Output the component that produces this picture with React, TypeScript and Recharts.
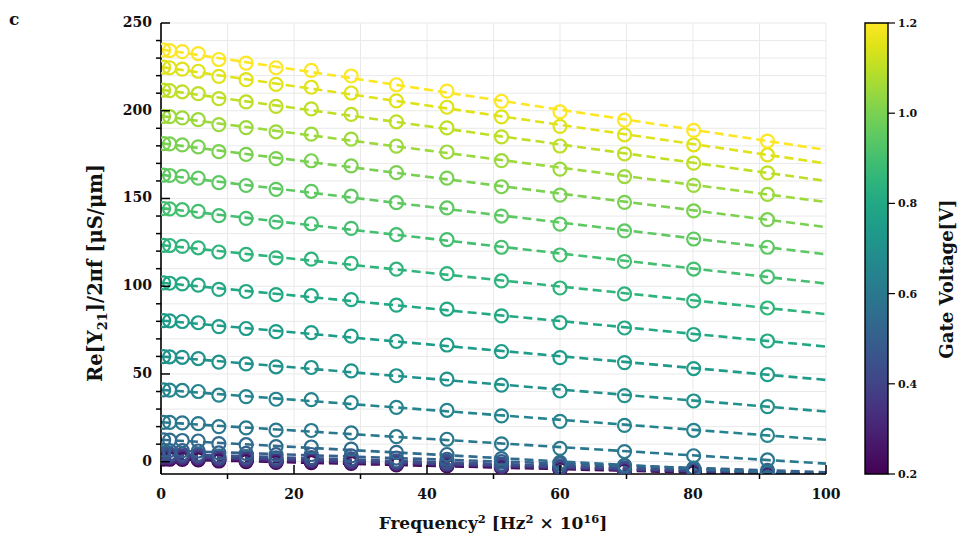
import React from 'react';
import { ComposedChart, Line, Scatter, XAxis, YAxis, CartesianGrid, ReferenceArea } from 'recharts';

// ---------- data ----------
const freqSq = [0.4, 1.3, 3.2, 5.6, 8.7, 12.8, 17.3, 22.6, 28.6, 35.4, 43.0, 51.2, 60.0, 69.7, 80.1, 91.2];
const gateVoltages = [0.2, 0.25, 0.3, 0.35, 0.4, 0.45, 0.5, 0.55, 0.6, 0.65, 0.7, 0.75, 0.8, 0.85, 0.9, 0.95, 1.0, 1.05, 1.1, 1.15, 1.2];

const re_020 = [1.5, 1.4, 1.3, 1.1, 0.4, 0.1, -0.4, -0.5, -1.0, -1.8, -2.4, -3.4, -4.5, -5.2, -6.2, -7.2];
const re_025 = [2.0, 1.9, 1.8, 1.6, 0.9, 0.6, 0.0, 0.1, -0.5, -1.4, -2.0, -3.0, -4.1, -4.9, -5.9, -6.9];
const re_030 = [2.5, 2.4, 2.3, 2.1, 1.3, 1.0, 0.4, 0.5, -0.2, -1.0, -1.6, -2.7, -3.8, -4.6, -5.6, -6.6];
const re_035 = [3.0, 2.9, 2.8, 2.6, 1.8, 1.5, 0.8, 0.9, 0.2, -0.7, -1.3, -2.5, -3.6, -4.4, -5.5, -6.6];
const re_040 = [3.6, 3.5, 3.4, 3.2, 2.3, 2.0, 1.3, 1.4, 0.7, -0.3, -0.9, -2.1, -3.3, -4.2, -5.3, -6.4];
const re_045 = [4.6, 4.5, 4.4, 4.2, 3.2, 2.9, 2.2, 2.3, 1.6, 0.5, -0.1, -1.4, -2.6, -3.5, -4.7, -5.9];
const re_050 = [6.5, 6.4, 6.3, 6.1, 5.0, 4.7, 4.0, 4.1, 3.3, 2.1, 1.4, 0.0, -1.3, -2.3, -3.6, -4.9];
const re_055 = [12.4, 12.3, 12.1, 11.8, 10.3, 9.7, 8.6, 8.4, 7.2, 5.3, 4.1, 1.8, -0.4, -2.1, -4.1, -6.2];
const re_060 = [22.4, 22.4, 22.1, 21.7, 20.0, 19.3, 18.0, 17.8, 16.4, 14.3, 12.8, 10.2, 7.6, 5.8, 3.4, 1.0];
const re_065 = [40.9, 40.8, 40.6, 40.0, 37.9, 37.1, 35.6, 35.4, 33.7, 31.0, 29.3, 26.1, 23.0, 20.7, 17.9, 15.0];
const re_070 = [59.9, 59.8, 59.5, 58.8, 56.7, 55.7, 54.1, 53.7, 51.8, 49.0, 47.1, 43.6, 40.3, 37.7, 34.6, 31.4];
const re_075 = [80.4, 80.3, 79.9, 79.2, 77.0, 75.9, 74.1, 73.6, 71.6, 68.6, 66.5, 62.8, 59.3, 56.5, 53.1, 49.6];
const re_080 = [101.9, 101.7, 101.3, 100.6, 98.2, 97.0, 95.2, 94.6, 92.4, 89.2, 87.0, 83.1, 79.3, 76.2, 72.5, 68.8];
const re_085 = [123.3, 123.2, 122.7, 121.9, 119.5, 118.2, 116.2, 115.4, 113.0, 109.7, 107.2, 103.0, 99.0, 95.6, 91.6, 87.6];
const re_090 = [144.3, 144.1, 143.6, 142.7, 140.2, 138.7, 136.6, 135.6, 133.0, 129.4, 126.6, 122.2, 117.8, 114.1, 109.8, 105.3];
const re_095 = [163.3, 163.1, 162.6, 161.6, 159.0, 157.4, 155.2, 154.1, 151.3, 147.6, 144.6, 140.0, 135.4, 131.5, 126.9, 122.2];
const re_100 = [181.3, 181.1, 180.5, 179.4, 176.7, 175.1, 172.7, 171.5, 168.6, 164.7, 161.6, 156.7, 151.9, 147.8, 142.9, 137.9];
const re_105 = [196.8, 196.6, 195.9, 194.9, 192.1, 190.4, 188.0, 186.7, 183.8, 179.8, 176.5, 171.6, 166.7, 162.5, 157.5, 152.3];
const re_110 = [211.8, 211.5, 210.8, 209.7, 206.9, 205.0, 202.5, 201.1, 197.9, 193.7, 190.2, 185.1, 179.9, 175.4, 170.1, 164.6];
const re_115 = [224.8, 224.5, 223.7, 222.5, 219.6, 217.7, 215.0, 213.4, 210.1, 205.6, 202.0, 196.5, 191.1, 186.3, 180.6, 174.8];
const re_120 = [234.6, 234.3, 233.7, 232.6, 229.2, 227.1, 224.5, 223.0, 219.8, 214.8, 211.2, 205.4, 199.4, 194.6, 188.8, 182.7];

const measured = [re_020, re_025, re_030, re_035, re_040, re_045, re_050, re_055, re_060, re_065, re_070,
  re_075, re_080, re_085, re_090, re_095, re_100, re_105, re_110, re_115, re_120];

// linear fit lines: value at x = 0 and at x = 100
const fitX = [0, 100];
const fitAt0 = [1.5, 2.0, 2.5, 3.0, 3.6, 4.6, 6.5, 12.5, 22.5, 41.0, 60.0, 80.5, 102.0, 123.5, 144.5, 163.5, 181.5, 197.0, 212.0, 225.0, 235.0];
const fitAt100 = [-8.0, -7.7, -7.5, -7.5, -7.4, -6.9, -6.0, -8.0, -1.1, 12.5, 28.6, 46.6, 65.6, 84.1, 101.5, 118.2, 133.7, 148.0, 160.0, 170.0, 177.7];

const xTicks = [0, 10, 20, 30, 40, 50, 60, 70, 80, 90, 100];
const yTicks = [0, 10, 20, 30, 40, 50, 60, 70, 80, 90, 100, 110, 120, 130, 140, 150, 160, 170, 180, 190, 200, 210, 220, 230, 240, 250];
const cbTicks = [0.2, 0.4, 0.6, 0.8, 1.0, 1.2];

// viridis colormap, 0 -> 1 in 0.05 steps
const viridis = ['#440154', '#471365', '#482475', '#463480', '#414487', '#3b528b', '#355f8d', '#2f6c8e', '#2a788e',
  '#25848e', '#21918c', '#1e9c89', '#22a884', '#2fb47c', '#44bf70', '#5ec962', '#7ad151', '#9bd93c', '#bddf26', '#dfe318', '#fde725'];

const colorFor = (v: number) => viridis[Math.round(((v - 0.2) / 1.0) * 20)];

const FONT = '"DejaVu Serif", serif';

// ---------- tick renderers (major ticks inward, minor outward) ----------
const BottomTick = (props: any) => {
  const { x, y, payload } = props;
  const v = Math.round(payload.value);
  const major = v % 20 === 0;
  return (
    <g>
      <line x1={x} x2={x} y1={y} y2={major ? y - 9 : y + 5} stroke="#000" strokeWidth={1.5} />
      {major && (
        <text x={x} y={y + 25} textAnchor="middle" fontFamily={FONT} fontWeight="bold" fontSize={14} fill="#111">{v}</text>
      )}
    </g>
  );
};
const TopTick = (props: any) => {
  const { x, y, payload } = props;
  const v = Math.round(payload.value);
  const major = v % 20 === 0;
  return <line x1={x} x2={x} y1={y} y2={major ? y + 9 : y - 5} stroke="#000" strokeWidth={1.5} />;
};
const LeftTick = (props: any) => {
  const { x, y, payload } = props;
  const v = Math.round(payload.value);
  const major = v % 50 === 0;
  return (
    <g>
      <line x1={x} x2={major ? x + 9 : x - 5} y1={y} y2={y} stroke="#000" strokeWidth={1.5} />
      {major && (
        <text x={x - 9} y={y + 4} textAnchor="end" fontFamily={FONT} fontWeight="bold" fontSize={14} fill="#111">{v}</text>
      )}
    </g>
  );
};
const RightTick = (props: any) => {
  const { x, y, payload } = props;
  const v = Math.round(payload.value);
  const major = v % 50 === 0;
  return <line x1={x} x2={major ? x - 9 : x + 5} y1={y} y2={y} stroke="#000" strokeWidth={1.5} />;
};
const CbTick = (props: any) => {
  const { x, y, payload } = props;
  return (
    <g>
      <line x1={x} x2={x + 7} y1={y} y2={y} stroke="#000" strokeWidth={1.2} />
      <text x={x + 10} y={y + 4} textAnchor="start" fontFamily={FONT} fontWeight="bold" fontSize={11} fill="#111">
        {Number(payload.value).toFixed(1)}
      </text>
    </g>
  );
};

const makeCircle = (color: string) => (p: any) => (
  <circle cx={p.cx} cy={p.cy} r={6.5} fill="none" stroke={color} strokeWidth={2.2} />
);

export default function App() {
  const series = gateVoltages.map((v, i) => ({
    v,
    color: colorFor(v),
    points: freqSq.map((x, j) => ({ x, y: measured[i][j] })),
    fit: [{ x: fitX[0], y: fitAt0[i] }, { x: fitX[1], y: fitAt100[i] }],
  }));

  return (
    <div style={{ position: 'absolute', left: 0, top: 0, width: 960, height: 535, background: '#fff' }}>
      <div style={{ position: 'absolute', left: 0, top: 0 }}>
        <ComposedChart width={960} height={535} margin={{ top: 23, right: 134, bottom: 0, left: 0 }}>
          <CartesianGrid xAxisId="b" yAxisId="l" stroke="#e9e9e9" strokeWidth={1} />
          <XAxis xAxisId="b" type="number" dataKey="x" domain={[0, 100]} ticks={xTicks} interval={0}
            allowDataOverflow height={61} tickSize={0} tickMargin={0} tickLine={false}
            axisLine={{ stroke: '#000', strokeWidth: 1.6 }} tick={<BottomTick />} />
          <XAxis xAxisId="t" orientation="top" type="number" dataKey="x" domain={[0, 100]} ticks={xTicks} interval={0}
            allowDataOverflow height={0} tickSize={0} tickMargin={0} tickLine={false}
            axisLine={{ stroke: '#000', strokeWidth: 1.6 }} tick={<TopTick />} />
          <YAxis yAxisId="l" type="number" dataKey="y" domain={[-7, 250]} ticks={yTicks} interval={0}
            allowDataOverflow width={161} tickSize={0} tickMargin={0} tickLine={false}
            axisLine={{ stroke: '#000', strokeWidth: 1.6 }} tick={<LeftTick />} />
          <YAxis yAxisId="r" orientation="right" type="number" dataKey="y" domain={[-7, 250]} ticks={yTicks} interval={0}
            allowDataOverflow width={0} tickSize={0} tickMargin={0} tickLine={false}
            axisLine={{ stroke: '#000', strokeWidth: 1.6 }} tick={<RightTick />} />
          <Line xAxisId="t" yAxisId="r" data={[{ x: 0, y: 0 }, { x: 100, y: 100 }]} dataKey="y"
            stroke="none" dot={false} activeDot={false} isAnimationActive={false} legendType="none" />
          {series.map((s) => (
            <Line key={'fit' + s.v} xAxisId="b" yAxisId="l" data={s.fit} dataKey="y" type="linear"
              stroke={s.color} strokeWidth={2.6} strokeDasharray="9 5" dot={false} activeDot={false}
              isAnimationActive={false} legendType="none" />
          ))}
          {series.map((s) => (
            <Scatter key={'pts' + s.v} xAxisId="b" yAxisId="l" data={s.points} dataKey="y"
              shape={makeCircle(s.color)} isAnimationActive={false} legendType="none" />
          ))}
        </ComposedChart>
      </div>

      <div style={{ position: 'absolute', left: 0, top: 0 }}>
        <ComposedChart width={960} height={535} margin={{ top: 23, right: 32, bottom: 61, left: 865 }}>
          <defs>
            <linearGradient id="viridisGrad" x1="0" y1="1" x2="0" y2="0">
              {viridis.map((c, i) => (
                <stop key={i} offset={`${(i / (viridis.length - 1)) * 100}%`} stopColor={c} />
              ))}
            </linearGradient>
          </defs>
          <XAxis type="number" dataKey="x" domain={[0, 1]} hide allowDataOverflow />
          <YAxis orientation="right" type="number" dataKey="y" domain={[0.2, 1.2]} ticks={cbTicks} interval={0}
            allowDataOverflow width={40} tickSize={0} tickMargin={0} tickLine={false} axisLine={false} tick={<CbTick />} />
          <Line data={[{ x: 0, y: 0.2 }, { x: 1, y: 1.2 }]} dataKey="y" stroke="none" dot={false}
            activeDot={false} isAnimationActive={false} legendType="none" />
          <ReferenceArea x1={0} x2={1} y1={0.2} y2={1.2} fill="url(#viridisGrad)" fillOpacity={1}
            stroke="#000" strokeWidth={1.4} />
        </ComposedChart>
      </div>

      <svg width={960} height={535} style={{ position: 'absolute', left: 0, top: 0, pointerEvents: 'none' }}>
        <text x={9} y={25} fontFamily={FONT} fontWeight="bold" fontSize={17} fill="#111">c</text>
        <text x={493} y={529} textAnchor="middle" fontFamily={FONT} fontWeight="bold" fontSize={17} fill="#111">
          Frequency<tspan fontSize={11.5} dy={-6}>2</tspan>
          <tspan dy={6}> [Hz</tspan><tspan fontSize={11.5} dy={-6}>2</tspan>
          <tspan dy={6}> × 10</tspan><tspan fontSize={11.5} dy={-6}>16</tspan>
          <tspan dy={6}>]</tspan>
        </text>
        <text x={0} y={0} transform="translate(102,273) rotate(-90)" textAnchor="middle" fontFamily={FONT}
          fontWeight="bold" fontSize={19.5} fill="#111">
          Re[Y<tspan fontSize={13} dy={5}>21</tspan><tspan dy={-5}>]/2πf [μS/μm]</tspan>
        </text>
        <text x={0} y={0} transform="translate(953,279) rotate(-90)" textAnchor="middle" fontFamily={FONT}
          fontWeight="bold" fontSize={18} fill="#111">
          Gate Voltage[V]
        </text>
      </svg>
    </div>
  );
}
